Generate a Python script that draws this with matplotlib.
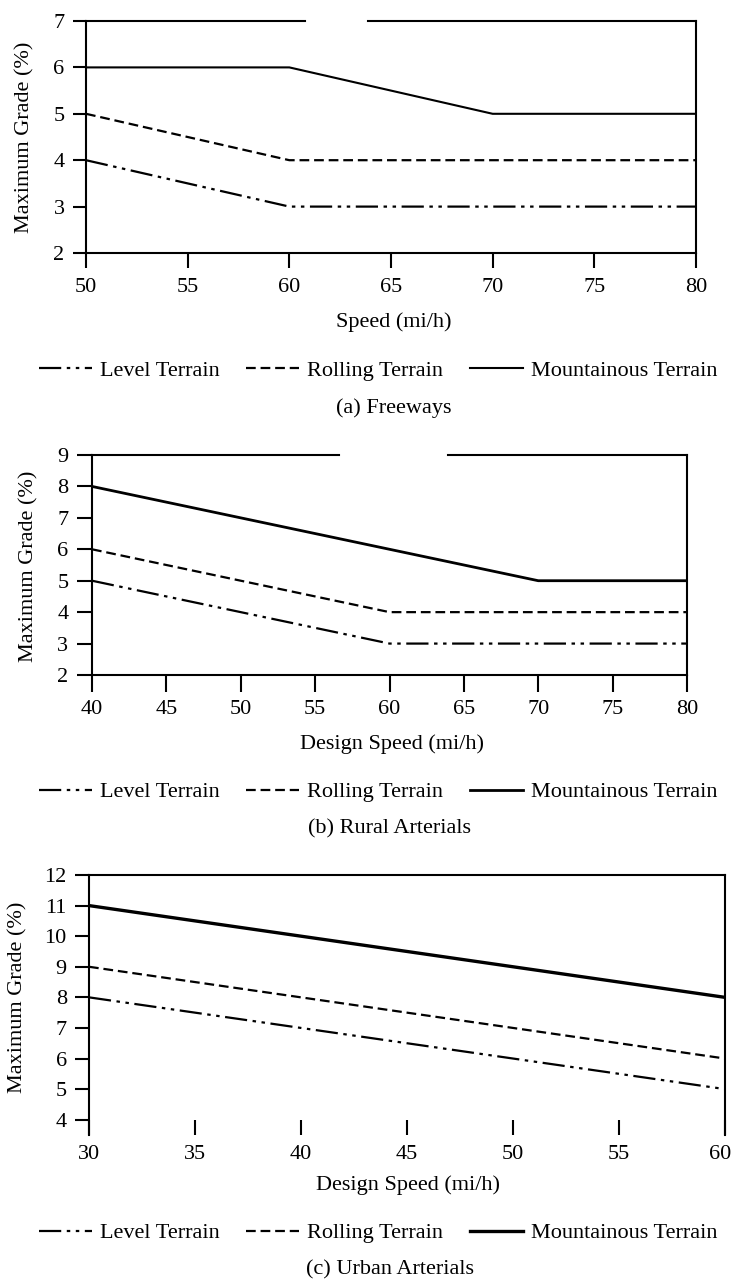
import matplotlib
matplotlib.use("Agg")
import matplotlib.pyplot as plt
import matplotlib.transforms as mtransforms

plt.rcParams['font.family'] = ['Liberation Serif', 'DejaVu Serif']
plt.rcParams['lines.scale_dashes'] = False

# ---- data ----
series_names = ["Level Terrain", "Rolling Terrain", "Mountainous Terrain"]

speed_a = [50, 55, 60, 65, 70, 75, 80]
level_a = [4, 3.5, 3, 3, 3, 3, 3]
rolling_a = [5, 4.5, 4, 4, 4, 4, 4]
mountain_a = [6, 6, 6, 5.5, 5, 5, 5]

speed_b = [40, 45, 50, 55, 60, 65, 70, 75, 80]
level_b = [5, 4.5, 4, 3.5, 3, 3, 3, 3, 3]
rolling_b = [6, 5.5, 5, 4.5, 4, 4, 4, 4, 4]
mountain_b = [8, 7.5, 7, 6.5, 6, 5.5, 5, 5, 5]

speed_c = [30, 35, 40, 45, 50, 55, 60]
level_c = [8, 7.5, 7, 6.5, 6, 5.5, 5]
rolling_c = [9, 8.5, 8, 7.5, 7, 6.5, 6]
mountain_c = [11, 10.5, 10, 9.5, 9, 8.5, 8]

yticks_a = [2, 3, 4, 5, 6, 7]
yticks_b = [2, 3, 4, 5, 6, 7, 8, 9]
yticks_c = [4, 5, 6, 7, 8, 9, 10, 11, 12]

ylabel = "Maximum Grade (%)"
xlabels = ["Speed (mi/h)", "Design Speed (mi/h)", "Design Speed (mi/h)"]
captions = ["(a) Freeways", "(b) Rural Arterials", "(c) Urban Arterials"]

# ---- styles ----
FS = 16
level_ls = (0, (16, 4, 2.5, 4, 2.5, 4))
rolling_ls = (0, (7, 3.5))
W, H = 732, 1279

fig = plt.figure(figsize=(W / 100, H / 100), dpi=100)

def fx(px):
    return px / W

def fy(py):
    return 1 - py / H

panels = [
    dict(rect=(86, 21, 696, 253), x=speed_a, ys=(level_a, rolling_a, mountain_a),
         yt=yticks_a, ylim=(2, 7), xlab=(394, 322), leg_y=371, cap=(394, 408), lw_m=1.5,
         ylab=(25, 137), gap=(305, 368), bottom=True, ylen=9.5, xlen=11, xpad=7),
    dict(rect=(92, 455, 687, 675), x=speed_b, ys=(level_b, rolling_b, mountain_b),
         yt=yticks_b, ylim=(2, 9), xlab=(392, 744), leg_y=792, cap=(389, 829), lw_m=2.0,
         ylab=(29, 566), gap=(339, 448), bottom=True, ylen=11, xlen=12, xpad=6),
    dict(rect=(89, 875, 725, 1135), x=speed_c, ys=(level_c, rolling_c, mountain_c),
         yt=yticks_c, ylim=(3.5, 12), xlab=(408, 1185), leg_y=1233, cap=(390, 1270), lw_m=2.4,
         ylab=(18, 997), gap=None, bottom=False, ylen=10, xlen=11, xpad=7),
]

for i, p in enumerate(panels):
    l, t, r, b = p['rect']
    ax = fig.add_axes([fx(l), fy(b), fx(r) - fx(l), fy(t) - fy(b)])
    x = p['x']
    lv, rl, mt = p['ys']
    h1, = ax.plot(x, lv, color='black', lw=1.6, linestyle=level_ls, label=series_names[0])
    h2, = ax.plot(x, rl, color='black', lw=1.6, linestyle=rolling_ls, label=series_names[1])
    h3, = ax.plot(x, mt, color='black', lw=p['lw_m'], linestyle='-', label=series_names[2])
    ax.set_xlim(x[0], x[-1])
    ax.set_ylim(*p['ylim'])
    ax.set_xticks(x)
    ax.set_yticks(p['yt'])
    for s in ax.spines.values():
        s.set_linewidth(1.5)
    if p['gap'] is not None:
        ax.spines['top'].set_visible(False)
        g0 = (p['gap'][0] - l) / (r - l)
        g1 = (p['gap'][1] - l) / (r - l)
        ax.axhline(p['ylim'][1], xmin=0, xmax=g0, color='black', lw=1.5, clip_on=False)
        ax.axhline(p['ylim'][1], xmin=g1, xmax=1, color='black', lw=1.5, clip_on=False)
    if p['bottom']:
        ax.tick_params(axis='x', direction='out', length=p['xlen'], width=1.5,
                       pad=p['xpad'], labelsize=FS)
    else:
        ax.spines['bottom'].set_visible(False)
        ax.tick_params(axis='x', direction='in', length=p['xlen'], width=1.5,
                       pad=p['xpad'], labelsize=FS)
        # keep the last tick label inside the figure edge
        last = ax.get_xticklabels()[-1]
        last.set_transform(last.get_transform() +
                           mtransforms.ScaledTranslation(-5 / 100, 0, fig.dpi_scale_trans))
    ax.tick_params(axis='y', direction='out', length=p['ylen'], width=1.5, pad=6, labelsize=FS)

    fig.text(fx(p['ylab'][0]), fy(p['ylab'][1]), ylabel, rotation=90,
             ha='center', va='center', fontsize=FS)
    fig.text(fx(p['xlab'][0]), fy(p['xlab'][1]), xlabels[i], ha='center', va='center', fontsize=FS)
    fig.legend(handles=[h1, h2, h3], loc='center', bbox_to_anchor=(fx(378), fy(p['leg_y'])),
               ncol=3, frameon=False, fontsize=FS, handlelength=2.4, handletextpad=0.35,
               columnspacing=1.2, borderaxespad=0, borderpad=0)
    fig.text(fx(p['cap'][0]), fy(p['cap'][1]), captions[i], ha='center', va='center', fontsize=FS)

fig.savefig("out.png", dpi=100)
